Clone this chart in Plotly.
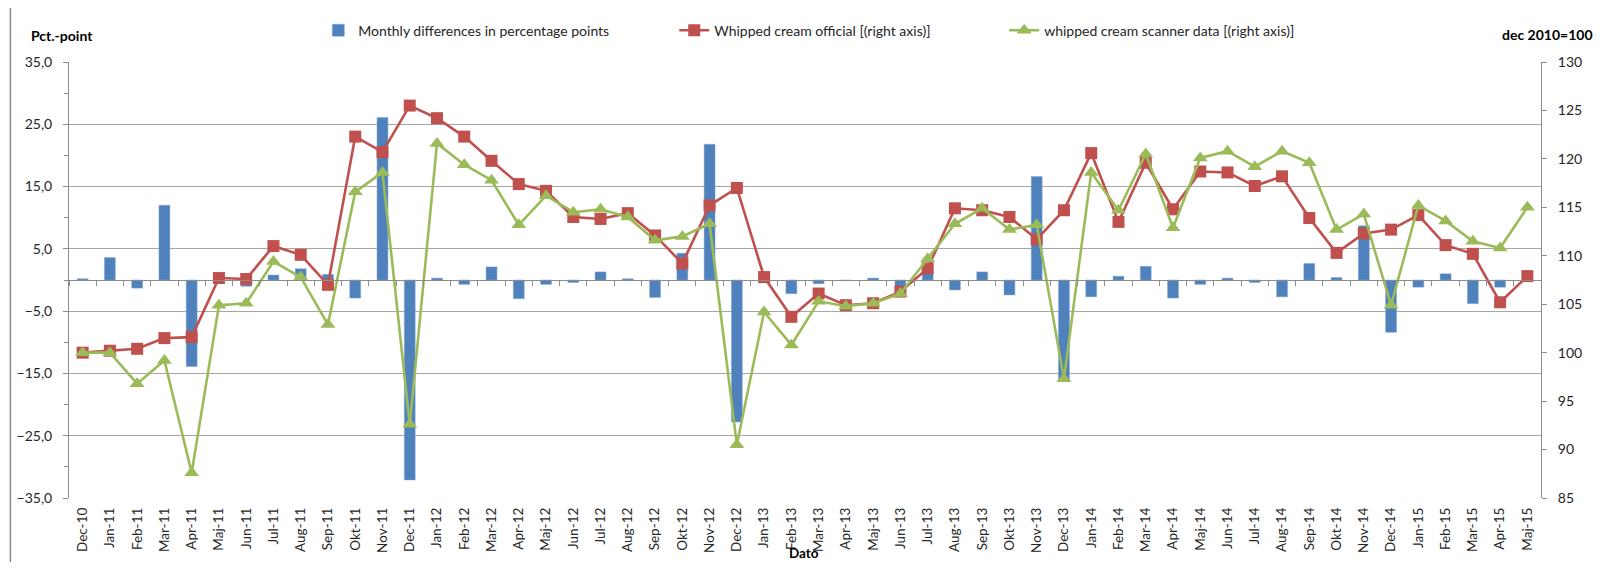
import plotly.graph_objects as go

months = ["Dec-10", "Jan-11", "Feb-11", "Mar-11", "Apr-11", "Maj-11", "Jun-11", "Jul-11", "Aug-11", "Sep-11",
          "Okt-11", "Nov-11", "Dec-11", "Jan-12", "Feb-12", "Mar-12", "Apr-12", "Maj-12", "Jun-12", "Jul-12",
          "Aug-12", "Sep-12", "Okt-12", "Nov-12", "Dec-12", "Jan-13", "Feb-13", "Mar-13", "Apr-13", "Maj-13",
          "Jun-13", "Jul-13", "Aug-13", "Sep-13", "Okt-13", "Nov-13", "Dec-13", "Jan-14", "Feb-14", "Mar-14",
          "Apr-14", "Maj-14", "Jun-14", "Jul-14", "Aug-14", "Sep-14", "Okt-14", "Nov-14", "Dec-14", "Jan-15",
          "Feb-15", "Mar-15", "Apr-15", "Maj-15"]

monthly_diff = [0.2, 3.6, -1.3, 12.0, -13.9, -0.1, -1.0, 0.8, 1.8, 0.9,
                -2.9, 26.1, -32.1, 0.3, -0.7, 2.1, -3.0, -0.7, -0.4, 1.3,
                0.2, -2.8, 4.3, 21.8, -22.8, 0.2, -2.2, -0.6, -0.1, 0.3,
                -1.2, 1.5, -1.6, 1.3, -2.4, 16.6, -16.3, -2.7, 0.6, 2.2,
                -2.9, -0.7, 0.3, -0.4, -2.7, 2.65, 0.4, 8.7, -8.4, -1.15,
                1.0, -3.8, -1.15, 0.0]

official = [100.0, 100.2, 100.4, 101.5, 101.6, 107.7, 107.6, 111.0, 110.1, 107.0,
            122.3, 120.7, 125.5, 124.2, 122.3, 119.8, 117.4, 116.7, 114.0, 113.8,
            114.4, 112.1, 109.2, 115.2, 117.0, 107.8, 103.7, 106.1, 104.9, 105.1,
            106.3, 108.7, 114.9, 114.7, 114.0, 111.7, 114.7, 120.6, 113.5, 119.6,
            114.8, 118.7, 118.6, 117.2, 118.2, 113.9, 110.3, 112.3, 112.7, 114.2,
            111.1, 110.2, 105.2, 107.9]

scanner = [100.0, 100.0, 96.8, 99.2, 87.6, 104.9, 105.1, 109.4, 107.8, 102.9,
           116.6, 118.6, 92.6, 121.6, 119.4, 117.8, 113.2, 116.2, 114.5, 114.8,
           114.0, 111.6, 112.0, 113.3, 90.5, 104.2, 100.8, 105.3, 104.8, 105.1,
           106.1, 109.7, 113.3, 114.9, 112.7, 113.2, 97.3, 118.6, 114.7, 120.5,
           112.9, 120.1, 120.8, 119.2, 120.8, 119.6, 112.7, 114.3, 104.9, 115.2,
           113.6, 111.5, 110.8, 115.0]

left_ticks = [35, 25, 15, 5, -5, -15, -25, -35]
right_ticks = [130, 125, 120, 115, 110, 105, 100, 95, 90, 85]

FONT = "Lato"
TXT = "#262626"
GRID = "#A6A6A6"
AX = "#8C8C8C"

# page body has an 8px margin: figure sits at (8, 8) in the screenshot
OFF = 8
FIG_W = 1620 - 2 * OFF
FIG_H = 570 - 2 * OFF

# plot area targets in screenshot pixels
L = 68.6
R = 1541.0
T = 62.3
B = 497.7
PW = R - L
PH = B - T


def px(xp):
    return (xp - L) / PW


def py(yp):
    return (B - yp) / PH


fig = go.Figure()

fig.add_trace(go.Bar(
    x=months, y=monthly_diff, name="Monthly differences in percentage points",
    marker=dict(color="#4F81BD", line=dict(color="#7FA6D6", width=0.5)),
    yaxis="y", xaxis="x", legend="legend",
))
fig.add_trace(go.Scatter(
    x=months, y=official, name="Whipped cream official [(right axis)]",
    mode="lines+markers", line=dict(color="#C0504D", width=2.6),
    marker=dict(symbol="square", size=12, color="#C0504D"),
    yaxis="y2", xaxis="x", legend="legend2",
))
fig.add_trace(go.Scatter(
    x=months, y=scanner, name="whipped cream scanner data [(right axis)]",
    mode="lines+markers", line=dict(color="#9BBB59", width=2.6),
    marker=dict(symbol="triangle-up", size=13, color="#9BBB59"),
    yaxis="y2", xaxis="x", legend="legend3",
))
# carrier for the zero-line category axis (ticks on category boundaries)
fig.add_trace(go.Scatter(
    x=months, y=[None] * len(months), xaxis="x2", yaxis="y",
    showlegend=False, hoverinfo="skip", mode="lines",
))

fig.update_layout(
    width=FIG_W, height=FIG_H,
    margin=dict(l=L - OFF, r=FIG_W - (R - OFF), t=T - OFF, b=FIG_H - (B - OFF), autoexpand=False),
    paper_bgcolor="white", plot_bgcolor="white",
    font=dict(family=FONT, size=14, color=TXT),
    separators=",.",
    bargap=0.6,
    xaxis=dict(
        type="category", categoryorder="array", categoryarray=months,
        range=[-0.5, len(months) - 0.5],
        tickangle=-90, showgrid=False, showline=False, ticks="",
        tickfont=dict(size=13.5, family=FONT, color=TXT),
        ticklabelstandoff=6,
    ),
    xaxis2=dict(
        type="category", categoryorder="array", categoryarray=months,
        range=[-0.5, len(months) - 0.5],
        overlaying="x", anchor="free", position=0.5, side="bottom",
        showticklabels=False, showgrid=False, showline=True,
        linecolor=AX, linewidth=1, ticks="outside", tickson="boundaries",
        ticklen=5, tickcolor=AX, tickwidth=1,
    ),
    yaxis=dict(
        range=[-35, 35], tickvals=left_ticks, tickformat=".1f",
        showgrid=True, gridcolor=GRID, gridwidth=1,
        zeroline=False, showline=True, linecolor=AX, linewidth=1,
        ticks="outside", ticklen=5, tickcolor=AX,
        minor=dict(dtick=5, tick0=0, ticks="outside", ticklen=4, tickcolor=AX, showgrid=False),
        tickfont=dict(size=14, family=FONT, color=TXT),
        ticklabelstandoff=8,
    ),
    yaxis2=dict(
        range=[85, 130], tickvals=right_ticks, overlaying="y", side="right",
        showgrid=False, zeroline=False, showline=True, linecolor=AX, linewidth=1,
        ticks="outside", ticklen=5, tickcolor=AX,
        tickfont=dict(size=14, family=FONT, color=TXT),
        ticklabelstandoff=8,
    ),
    legend=dict(orientation="h", x=px(318), y=py(31), xanchor="left", yanchor="middle",
                bgcolor="rgba(0,0,0,0)", font=dict(size=14, family=FONT, color=TXT)),
    legend2=dict(orientation="h", x=px(674), y=py(31), xanchor="left", yanchor="middle",
                 bgcolor="rgba(0,0,0,0)", font=dict(size=14, family=FONT, color=TXT)),
    legend3=dict(orientation="h", x=px(1004), y=py(31), xanchor="left", yanchor="middle",
                 bgcolor="rgba(0,0,0,0)", font=dict(size=14, family=FONT, color=TXT)),
    annotations=[
        dict(text="<b>Pct.-point</b>", xref="paper", yref="paper", x=px(29), y=py(36),
             xanchor="left", yanchor="middle", showarrow=False, font=dict(size=14, family=FONT, color="#000")),
        dict(text="<b>dec 2010=100</b>", xref="paper", yref="paper", x=px(1595), y=py(35),
             xanchor="right", yanchor="middle", showarrow=False, font=dict(size=14, family=FONT, color="#000")),
        dict(text="<b>Dato</b>", xref="paper", yref="paper", x=px(804), y=py(563),
             xanchor="center", yanchor="bottom", showarrow=False, font=dict(size=13.5, family=FONT, color="#000")),
    ],
    shapes=[
        dict(type="rect", xref="paper", yref="paper", x0=px(10), x1=px(1650), y0=py(600), y1=py(7),
             line=dict(color="#8C8C8C", width=1.5), fillcolor="rgba(0,0,0,0)", layer="below"),
    ],
)

fig.write_html("out.html")
